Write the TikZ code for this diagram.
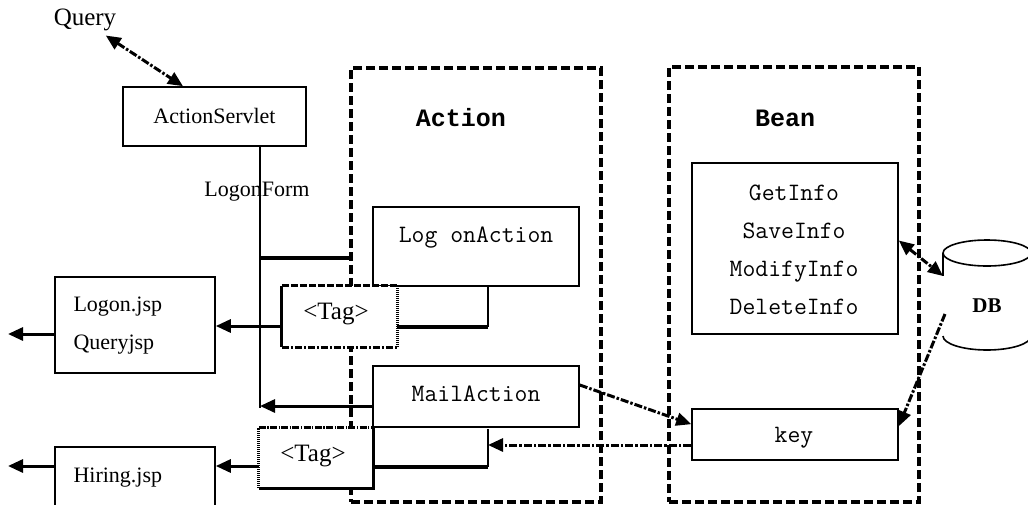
\documentclass[tikz,border=0pt]{standalone}
\usepackage{fontspec}
\setmainfont{Liberation Serif}
\newfontfamily\hdfont{Liberation Mono}
\usetikzlibrary{arrows.meta,calc}
\begin{document}
\begin{tikzpicture}[x=1pt,y=-1pt,
  box/.style={draw,line width=1.6pt,inner sep=0pt},
  serif/.style={font=\fontsize{22}{38}\selectfont},
  tagf/.style={font=\fontsize{25}{30}\selectfont},
  mono/.style={font=\ttfamily\fontsize{25}{38}\selectfont},
  head/.style={font=\hdfont\bfseries\fontsize{25}{30}\selectfont},
  cont/.style={draw,line width=3.4pt,dash pattern=on 9pt off 4pt,inner sep=0pt},
  tip/.style={-{Triangle[length=15pt,width=13pt]}},
  arr/.style={line width=3pt,tip},
  dd/.style={line width=3pt,dash pattern=on 8pt off 2pt on 2.5pt off 2pt},
  thinl/.style={line width=1.6pt},
  thickl/.style={line width=3.2pt}]
\clip (0,0) rectangle (1028,504);
\fill[white] (0,0) rectangle (1028,504);
% containers
\node[cont,minimum width=250pt,minimum height=434pt] (actionbox) at (476,285) {};
\node[cont,minimum width=250pt,minimum height=435pt] (beanbox) at (794,284.5) {};
\node[head] (actionlbl) at (461,118) {Action};
\node[head] (beanlbl) at (785,118) {Bean};
% top
\node[font=\fontsize{25}{30}\selectfont] (query) at (85,20) {Query};
\node[box,minimum width=183pt,minimum height=59pt] (servlet) at (214.5,116.5) {};
\node[serif] (servlettxt) at (214.5,116) {ActionServlet};
\draw[dd,{Triangle[length=15pt,width=13pt]}-{Triangle[length=15pt,width=13pt]}] ([xshift=-14pt,yshift=-1pt]query.south east) -- ([xshift=-31.5pt]servlet.north);
% bus
\coordinate (busb) at (260,408);
\coordinate (lf) at (260,258);
\draw[thinl] (busb |- servlet.south) -- (busb);
\node[serif] (logonform) at (257,192) {LogonForm};
\draw[thickl] (lf) -- (lf -| actionbox.west);
% logon action
\node[box,minimum width=206pt,minimum height=79pt] (logonaction) at (476,246.5) {};
\node[mono] (logonactiontxt) at (476,238) {Log onAction};
\coordinate (b1) at (488,327);
\draw[thinl] (b1 |- logonaction.south) -- (b1);
\draw[thickl] (b1) -- (396,327);
% tag1
\node[fill=white,inner sep=0pt,minimum width=115pt,minimum height=61pt] (tag1) at (339.5,316.5) {};
\node[tagf] (tag1txt) at (336,314) {<Tag>};
\draw[line width=3pt] (tag1.north west) -- (tag1.south west);
\draw[line width=3pt,dash pattern=on 7pt off 2pt] (tag1.north west) -- (tag1.north east);
\draw[line width=3pt,dash pattern=on 1.2pt off 0.8pt] (tag1.north east) -- (tag1.south east);
\draw[line width=3pt,dash pattern=on 7pt off 2pt on 2pt off 2pt] (tag1.south west) -- (tag1.south east);
% logon.jsp
\node[box,minimum width=160pt,minimum height=96pt] (logonjsp) at (135,325) {};
\node[serif,align=left,anchor=west] (logonjsptxt) at (70,326) {Logon.jsp\\Queryjsp};
\coordinate (t1a) at ([yshift=-9.5pt]tag1.west);
\draw[arr] (t1a) -- (t1a -| logonjsp.east);
\coordinate (lo) at (8,334);
\draw[arr] (lo -| logonjsp.west) -- (lo);
% mail action
\node[box,minimum width=206pt,minimum height=61pt] (mailaction) at (476,396.5) {};
\node[mono] (mailactiontxt) at (476,394) {MailAction};
\coordinate (ma) at (260,406);
\draw[arr] (ma -| mailaction.west) -- (ma);
\coordinate (b2) at (488,467);
\draw[thinl] (488,429) -- (b2);
\draw[thickl] (b2) -- (373,467);
% tag2
\node[fill=white,inner sep=0pt,minimum width=114pt,minimum height=60pt] (tag2) at (316,458) {};
\node[tagf] (tag2txt) at (313,456) {<Tag>};
\draw[line width=3pt,dash pattern=on 1.2pt off 0.8pt] (tag2.south west) -- (tag2.north west);
\draw[line width=3pt,dash pattern=on 7pt off 1.5pt on 1.2pt off 1.5pt] (tag2.north west) -- (tag2.north east);
\draw[line width=3.2pt] (tag2.north east) -- (tag2.south east) -- (tag2.south west);
% hiring
\node[box,minimum width=160pt,minimum height=66pt] (hiring) at (135,480) {};
\node[serif,anchor=west] (hiringtxt) at (70,478) {Hiring.jsp};
\coordinate (h) at (8,466);
\draw[arr] (h -| tag2.west) -- (h -| hiring.east);
\draw[arr] (h -| hiring.west) -- (h);
% bean
\node[box,minimum width=206pt,minimum height=171pt] (info) at (795,248.5) {};
\node[mono,align=center] (infotxt) at (794,250) {GetInfo\\SaveInfo\\ModifyInfo\\DeleteInfo};
\node[box,minimum width=206pt,minimum height=51pt] (key) at (795,434.5) {};
\node[mono] (keytxt) at (794,438) {key};
% DB
\draw[thinl] (987,253) ellipse [x radius=44pt, y radius=13pt];
\draw[thinl] (943,253) -- (943,276);
\draw[thinl] (943,336) arc[start angle=180, end angle=360, x radius=44pt, y radius=14pt];
\node[font=\bfseries\fontsize{21}{24}\selectfont] (db) at (987,306) {DB};
\coordinate (dbl) at (943,276);
\coordinate (dbk) at (945,314);
% connectors
\draw[dd,tip] ([yshift=11.5pt]mailaction.east) -- ([yshift=-16pt]key.north west);
\coordinate (b3) at (488,445);
\draw[dd,tip] (b3 -| key.west) -- (b3);
\draw[dd,{Triangle[length=15pt,width=13pt]}-{Triangle[length=15pt,width=13pt]}] ([yshift=8pt]info.east) -- (dbl);
\draw[dd,tip] (dbk) -- ([yshift=-18pt]key.north east);
\end{tikzpicture}
\end{document}
